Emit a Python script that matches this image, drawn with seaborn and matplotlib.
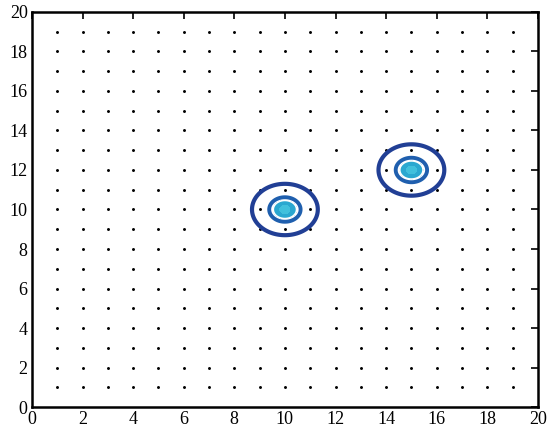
import matplotlib
matplotlib.use("Agg")
import matplotlib.pyplot as plt
import numpy as np
import pandas as pd
import seaborn as sns

# sensor grid (integer positions) and the two peaks
GRID_X = list(range(1, 20))
GRID_Y = list(range(1, 20))
PEAK_X = [10, 15]
PEAK_Y = [10, 12]
PEAK_SIGMA = 1.0
# contour radii (data units): outer ring, inner ring, filled core
RING_OUTER = 1.3
RING_INNER = 0.62
CORE = 0.46
TICKS = list(range(0, 21, 2))

sns.set_style("white")
plt.rcParams["font.family"] = ["Liberation Serif", "DejaVu Serif"]

fig = plt.figure(figsize=(5.5, 4.37), dpi=100)
ax = fig.add_axes([0.058, 0.0686, 0.92, 0.904])

grid = pd.DataFrame(
    [(x, y) for x in GRID_X for y in GRID_Y], columns=["x", "y"]
)
sns.scatterplot(data=grid, x="x", y="y", s=4.5, color="black", linewidth=0, ax=ax)

xs = np.linspace(0, 20, 801)
ys = np.linspace(0, 20, 801)
X, Y = np.meshgrid(xs, ys)
Z = np.zeros_like(X)
for px, py in zip(PEAK_X, PEAK_Y):
    Z += np.exp(-((X - px) ** 2 + (Y - py) ** 2) / (2 * PEAK_SIGMA ** 2))


def level(r):
    return np.exp(-r ** 2 / (2 * PEAK_SIGMA ** 2))


ax.contourf(X, Y, Z, levels=[level(CORE), level(0.2), 1.01],
            colors=["#2aa8d0", "#40c0dc"])
ax.contour(X, Y, Z, levels=[level(CORE)], colors="white", linewidths=1.2)
ax.contour(X, Y, Z, levels=[level(RING_INNER)], colors="#1f5fae", linewidths=2.8)
ax.contour(X, Y, Z, levels=[level(RING_OUTER)], colors="#213f95", linewidths=3.0)

ax.set_xlim(0, 20)
ax.set_ylim(0, 20)
ax.set_xticks(TICKS)
ax.set_yticks(TICKS)
ax.set_xlabel("")
ax.set_ylabel("")
ax.tick_params(direction="in", length=5, width=1.2, top=True, right=True,
               labelsize=13, colors="black", pad=3)
for spine in ax.spines.values():
    spine.set_linewidth(1.8)
    spine.set_color("black")

fig.savefig("out.png", dpi=100)
